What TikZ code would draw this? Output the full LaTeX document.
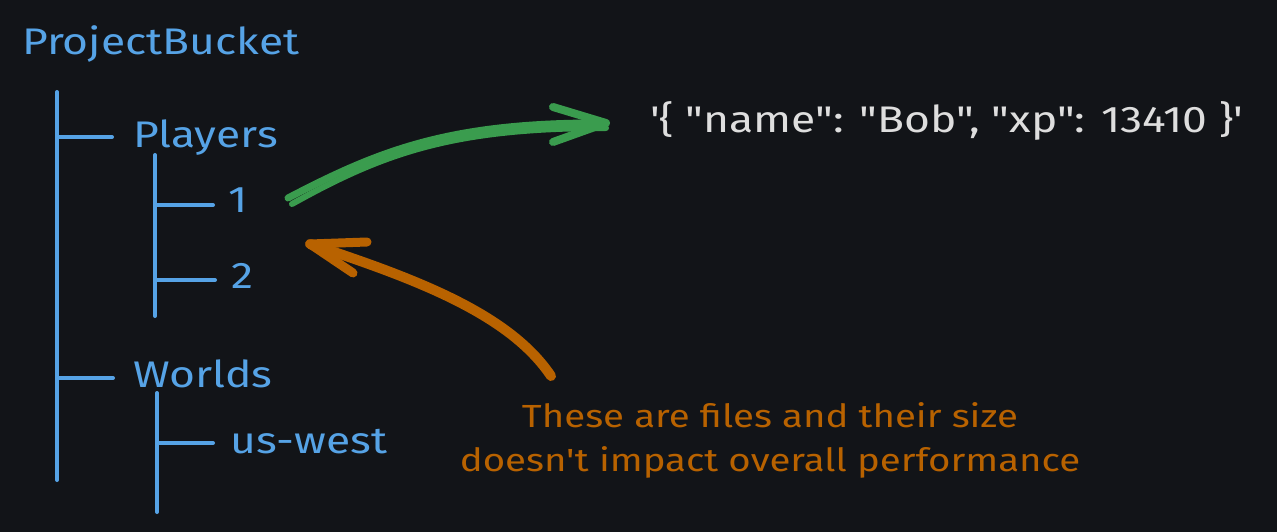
\documentclass[tikz,border=0pt]{standalone}
\usepackage{fontspec}
\setmainfont{Fira Sans}[FakeStretch=1.2,Ligatures=TeXOff]
\definecolor{canvas}{HTML}{121418}
\definecolor{treeblue}{HTML}{56A3E6}
\definecolor{linkgreen}{HTML}{3A9C4E}
\definecolor{noteorange}{HTML}{B86200}
\definecolor{jsonwhite}{HTML}{DEDEDE}
\tikzset{
  branch/.style={treeblue,line width=4pt,line cap=round},
  treelabel/.style={text=treeblue,font=\fontsize{37}{40}\selectfont,anchor=base west,inner sep=0pt},
  greenstroke/.style={linkgreen,line width=7pt,line cap=round,line join=round},
  orangestroke/.style={noteorange,line width=10pt,line cap=round,line join=round},
}
\begin{document}
\begin{tikzpicture}[x=1pt,y=-1pt]
  \fill[canvas] (0,0) rectangle (1277,532);
  \useasboundingbox (0,0) rectangle (1277,532);

  % tree labels
  \node[treelabel] (bucket) at (22,55) {ProjectBucket};
  \node[treelabel] (players) at (133,147) {Players};
  \node[treelabel] (one) at (228,212) {1};
  \node[treelabel] (two) at (231,288) {2};
  \node[treelabel] (worlds) at (133,387) {Worlds};
  \node[treelabel] (uswest) at (230,453) {us-west};

  % tree lines
  \coordinate (roottop) at (57,92);
  \coordinate (rootbot) at (57,480);
  \coordinate (ptop) at (155,155);
  \coordinate (pbot) at (155,316);
  \coordinate (wtop) at (157,393);
  \coordinate (wbot) at (157,512);
  \draw[branch] (roottop) -- (rootbot);
  \draw[branch] (ptop) -- (pbot);
  \draw[branch] (wtop) -- (wbot);
  \draw[branch] (57,137) -- ([xshift=-21pt]players.west |- 0,137);
  \draw[branch] (57,378) -- ([xshift=-20pt]worlds.west |- 0,378);
  \draw[branch] (155,205) -- ([xshift=-15pt]one.west |- 0,205);
  \draw[branch] (155,280) -- ([xshift=-16pt]two.west |- 0,280);
  \draw[branch] (157,443) -- ([xshift=-17pt]uswest.west |- 0,443);

  % value
  \node[text=jsonwhite,font=\fontsize{37}{40}\selectfont,anchor=base west,inner sep=0pt]
    (json) at (650,132) {'\{ "name": "Bob", "xp": 13410 \}'};

  % note
  \node[text=noteorange,font=\fontsize{32}{44}\selectfont,align=center,inner sep=0pt]
    (note) at (770,440) {These are files and their size\\doesn't impact overall performance};

  % green arrow
  \coordinate (gstart) at (288,198);
  \coordinate (gtip) at (606,123);
  \draw[greenstroke] (gstart) .. controls (380,150) and (450,122) .. (gtip);
  \draw[greenstroke,line width=6pt] (292,204) .. controls (385,152) and (455,128) .. (606,128);
  \draw[greenstroke,line width=8pt] (553,107) -- (gtip) -- (553,142);

  % orange arrow
  \coordinate (ostart) at (551,376);
  \coordinate (otip) at (310,244);
  \draw[orangestroke] (ostart) .. controls (510,315) and (420,280) .. (otip);
  \draw[orangestroke,line width=9pt] (367,242) -- (otip) -- (353,273);
\end{tikzpicture}
\end{document}
